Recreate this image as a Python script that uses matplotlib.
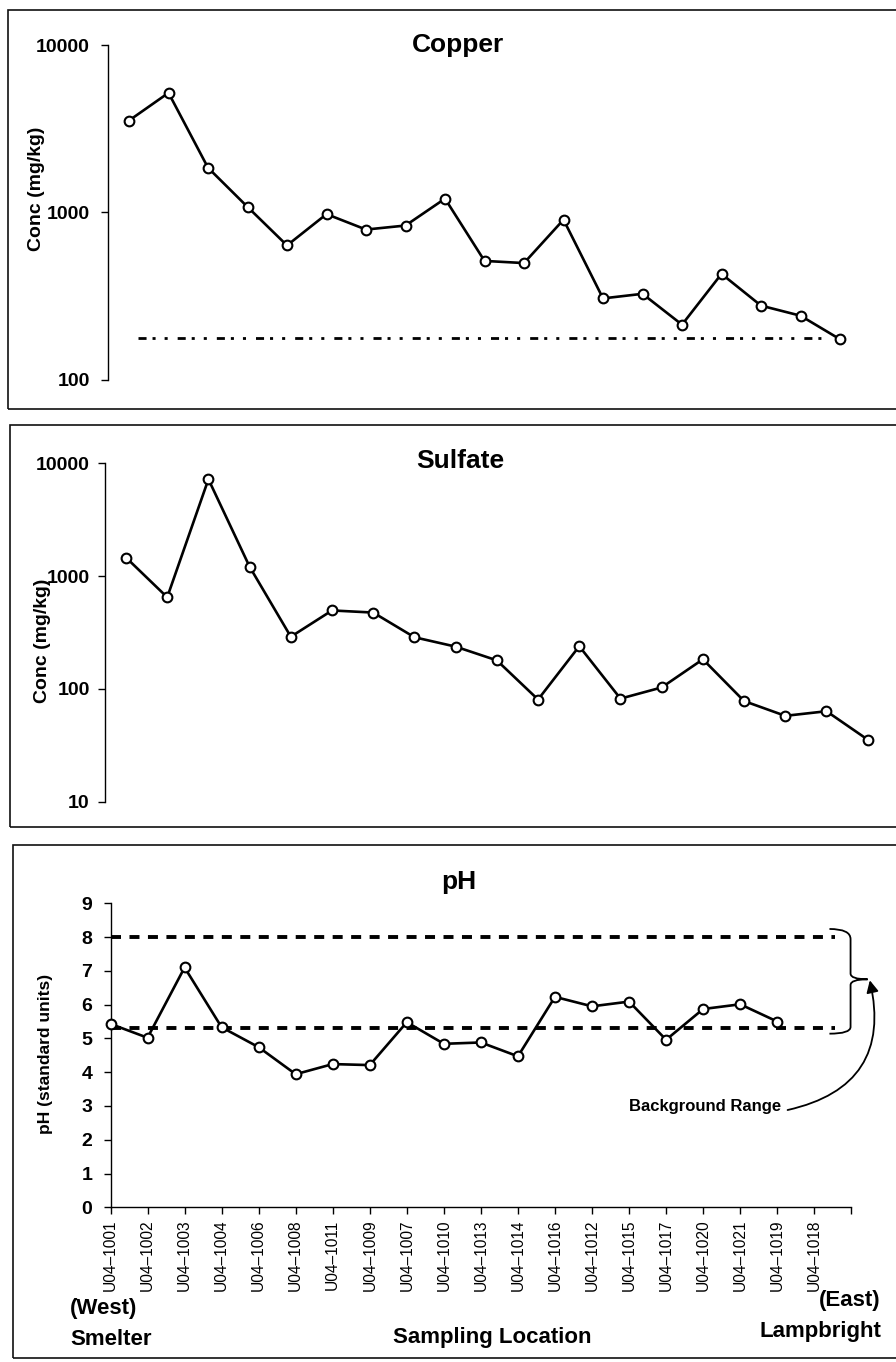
import matplotlib
matplotlib.use("Agg")
import matplotlib.pyplot as plt
from matplotlib import font_manager
from matplotlib.patches import Rectangle, FancyArrowPatch, PathPatch
from matplotlib.path import Path
from matplotlib.ticker import NullLocator

# ---------------------------------------------------------------- data
locations = ["U04-1001", "U04-1002", "U04-1003", "U04-1004", "U04-1006",
             "U04-1008", "U04-1011", "U04-1009", "U04-1007", "U04-1010",
             "U04-1013", "U04-1014", "U04-1016", "U04-1012", "U04-1015",
             "U04-1017", "U04-1020", "U04-1021", "U04-1019", "U04-1018"]

copper = [3540, 5180, 1850, 1080, 636, 978, 791, 836, 1210, 514,
          499, 906, 307, 327, 214, 430, 278, 242, 175]
copper_background = 177

sulfate = [1460, 649, 7220, 1210, 290, 496, 475, 287, 237, 179,
           80.5, 239, 82, 103, 183, 78, 57.7, 63.4, 35.5]

ph = [5.43, 5.02, 7.10, 5.33, 4.74, 3.94, 4.24, 4.21, 5.48, 4.84,
      4.88, 4.47, 6.23, 5.95, 6.09, 4.96, 5.87, 6.01, 5.50]
ph_background_low = 5.3
ph_background_high = 8.0

log_ticks_copper = [100, 1000, 10000]
log_ticks_sulfate = [10, 100, 1000, 10000]
ph_ticks = list(range(10))

# ---------------------------------------------------------------- style
plt.rcParams["font.family"] = ["Liberation Sans", "DejaVu Sans"]
plt.rcParams["lines.scale_dashes"] = False

# condensed face for the rotated location labels, if one is installed
try:
    font_manager.findfont(font_manager.FontProperties(
        family="Liberation Sans Narrow"), fallback_to_default=False)
    loc_font = dict(fontfamily="Liberation Sans Narrow", fontsize=12.5)
except Exception:
    loc_font = dict(fontfamily="Liberation Sans", fontsize=11.2)

W, H = 896, 1362
fig = plt.figure(figsize=(W / 100, H / 100), dpi=100)
fig.patch.set_facecolor("white")


def px_rect(left, top, right, bottom):
    return [left / W, 1 - bottom / H, (right - left) / W, (bottom - top) / H]


def ftext(x, y, s, **kw):
    return fig.text(x / W, 1 - y / H, s, **kw)


def frame(left, top, bottom):
    fig.add_artist(Rectangle((left / W, 1 - bottom / H), (910 - left) / W,
                             (bottom - top) / H, transform=fig.transFigure,
                             fill=False, lw=1.2, ec="#111111"))


line_kw = dict(color="black", lw=1.9, marker="o", ms=7, mfc="white",
               mec="black", mew=1.5, clip_on=False, zorder=4)


def style_log_axis(ax, ticks):
    for side in ("top", "right", "bottom"):
        ax.spines[side].set_visible(False)
    ax.spines["left"].set_linewidth(1.0)
    ax.set_yscale("log")
    ax.set_ylim(ticks[0], ticks[-1])
    ax.set_yticks(ticks, labels=[str(t) for t in ticks],
                  fontsize=14, fontweight="bold")
    ax.yaxis.set_minor_locator(NullLocator())
    ax.tick_params(axis="y", direction="out", length=5, width=1, pad=8)
    ax.set_xticks([])
    ax.patch.set_alpha(0)


# ---------------------------------------------------------------- frames
frame(7.5, 9.5, 409)
frame(10, 425, 826.5)
frame(13, 845, 1358)

# ---------------------------------------------------------------- copper
ax1 = fig.add_axes(px_rect(108, 45, 860, 380))
style_log_axis(ax1, log_ticks_copper)
ax1.set_xlim(-0.532, 18.506)
ax1.plot(range(len(copper)), copper, **line_kw)
ax1.plot([0.22, 17.65], [copper_background] * 2, color="black", lw=2.0,
         dashes=[5.8, 4.3, 2.2, 6.5, 2.2, 7.2], dash_capstyle="butt",
         zorder=2)
ftext(458, 52, "Copper", ha="center", va="baseline", fontsize=19,
      fontweight="bold")
ftext(36.5, 189, "Conc (mg/kg)", rotation=90, ha="center", va="center",
      fontsize=14, fontweight="bold")

# ---------------------------------------------------------------- sulfate
ax2 = fig.add_axes(px_rect(105, 463.3, 885, 801.7))
style_log_axis(ax2, log_ticks_sulfate)
ax2.set_xlim(-0.51, 18.42)
ax2.tick_params(axis="y", pad=6)
ax2.plot(range(len(sulfate)), sulfate, **line_kw)
ftext(460, 468, "Sulfate", ha="center", va="baseline", fontsize=19,
      fontweight="bold")
ftext(42.5, 641, "Conc (mg/kg)", rotation=90, ha="center", va="center",
      fontsize=14, fontweight="bold")

# ---------------------------------------------------------------- pH
ax3 = fig.add_axes(px_rect(110.5, 903.3, 851.3, 1207.3))
for side in ("top", "right"):
    ax3.spines[side].set_visible(False)
ax3.spines["left"].set_linewidth(1.0)
ax3.spines["bottom"].set_linewidth(1.0)
ax3.set_xlim(0, 20)
ax3.set_ylim(0, 9)
ax3.patch.set_alpha(0)
ax3.set_yticks(ph_ticks, labels=[str(t) for t in ph_ticks], fontsize=14,
               fontweight="bold")
ax3.tick_params(axis="y", direction="out", length=5, width=1, pad=8)
ax3.set_xticks(range(len(locations) + 1),
               labels=[s.replace("-", "\u2013") for s in locations] + [""],
               rotation=90, **loc_font)
ax3.tick_params(axis="x", direction="out", length=5, width=1, pad=4)

ax3.plot(range(len(ph)), ph, **line_kw)
for level in (ph_background_high, ph_background_low):
    ax3.plot([0, 19.55], [level, level], color="black", lw=2.8,
             dashes=[7.2, 6.1], dash_capstyle="butt", zorder=2,
             clip_on=False)

# curly brace marking the background range
brace = Path(
    [(19.41, 8.24), (19.98, 8.24), (19.98, 7.94), (19.98, 6.92),
     (19.98, 6.75), (20.44, 6.75),
     (19.98, 6.75), (19.98, 6.58), (19.98, 5.34), (19.98, 5.14),
     (19.41, 5.14)],
    [Path.MOVETO, Path.CURVE3, Path.CURVE3, Path.LINETO,
     Path.CURVE3, Path.CURVE3,
     Path.CURVE3, Path.CURVE3, Path.LINETO, Path.CURVE3, Path.CURVE3])
ax3.add_patch(PathPatch(brace, fill=False, lw=1.3, ec="black",
                        clip_on=False, zorder=3))

arrow = FancyArrowPatch((18.28, 2.88), (20.5, 6.72),
                        connectionstyle="arc3,rad=0.5", arrowstyle="-|>",
                        mutation_scale=18, lw=1.3, color="black",
                        clip_on=False, shrinkA=0, shrinkB=0, zorder=3)
ax3.add_patch(arrow)
ftext(705, 1107, "Background Range", ha="center", va="center",
      fontsize=12, fontweight="bold")

ftext(459, 889.5, "pH", ha="center", va="baseline", fontsize=19,
      fontweight="bold")
ftext(45.5, 1054, "pH (standard units)", rotation=90, ha="center",
      va="center", fontsize=12.5, fontweight="bold")

# end-point annotations along the sampling transect
ftext(70, 1314, "(West)", ha="left", va="baseline", fontsize=16,
      fontweight="bold")
ftext(70, 1345, "Smelter", ha="left", va="baseline", fontsize=16,
      fontweight="bold")
ftext(492, 1343, "Sampling Location", ha="center", va="baseline",
      fontsize=16, fontweight="bold")
ftext(880, 1306, "(East)", ha="right", va="baseline", fontsize=16,
      fontweight="bold")
ftext(881, 1337, "Lampbright", ha="right", va="baseline", fontsize=16,
      fontweight="bold")

fig.savefig("out.png", dpi=100, facecolor="white")
